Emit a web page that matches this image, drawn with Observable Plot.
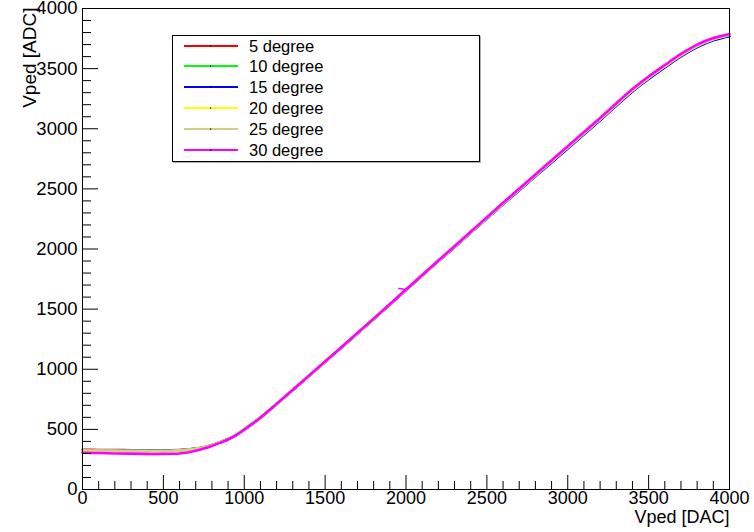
<!DOCTYPE html>
<html>
<head>
<meta charset="utf-8">
<script src="https://cdn.jsdelivr.net/npm/d3@7"></script>
<script src="https://cdn.jsdelivr.net/npm/@observablehq/plot@0.6"></script>
<style>
  html, body { margin: 0; padding: 0; background: #fff; }
  #wrap { position: relative; width: 754px; height: 532px; overflow: hidden; font-family: "Liberation Sans", Arial, sans-serif; }
  #legend { position: absolute; left: 172px; top: 35px; width: 306px; height: 125px; border: 1px solid #000; background: #fff; box-shadow: 1px 1px 0 #b0b0b0; }
  .row { position: absolute; left: 0; height: 20px; width: 100%; }
  .row svg { position: absolute; left: 10px; top: 0; }
  .row span { position: absolute; left: 76px; top: 0px; font-size: 16.5px; line-height: 20px; color: #000; }
</style>
</head>
<body>
<div id="wrap"></div>
<script>
// ---- data ----
const xs = [0,100,200,300,400,500,550,600,650,700,750,800,850,900,950,1000,1100,1200,1400,1600,1800,2000,2200,2400,2600,2800,3000,3200,3400,3500,3600,3700,3800,3900,4000];
const deg5  = [330,329,328,327,326,326,327,329,333,340,352,370,394,420,455,500,598,712,945,1180,1418,1660,1900,2138,2378,2612,2845,3080,3320,3425,3520,3612,3690,3745,3780];
const deg10 = [327,326,325,324,323,323,324,327,332,339,351,369,393,419,454,499,597,711,945,1180,1418,1660,1900,2138,2377,2610,2843,3077,3316,3421,3517,3609,3687,3743,3778];
const deg15 = [326,325,324,323,322,322,323,326,331,338,350,368,392,418,453,498,596,710,944,1179,1416,1658,1897,2134,2372,2604,2836,3070,3310,3414,3510,3602,3680,3736,3770];
const deg20 = [322,321,320,319,318,318,320,324,330,338,350,368,393,419,454,499,597,711,945,1180,1418,1660,1900,2138,2377,2611,2844,3078,3318,3423,3518,3610,3688,3744,3779];
const deg25 = [325,324,323,322,321,321,322,326,331,339,351,369,393,419,454,499,597,711,945,1180,1418,1660,1900,2138,2378,2612,2845,3080,3320,3425,3520,3612,3690,3745,3780];
const deg30 = [305,303,300,298,296,296,297,300,308,322,340,362,388,416,452,498,597,712,947,1183,1421,1663,1904,2143,2384,2620,2854,3090,3330,3435,3530,3622,3700,3754,3788];
const glitchX = [2000, 1955];
const glitchY = [1664, 1672];

const seriesNames = ["5 degree","10 degree","15 degree","20 degree","25 degree","30 degree"];
const seriesValues = [deg5, deg10, deg15, deg20, deg25, deg30];
const seriesColors = ["#ff0000","#00ff00","#0000ff","#ffff00","#cfcf8a","#ff00ff"];

const majorX = [0,500,1000,1500,2000,2500,3000,3500,4000];
const minorX = d3.range(0, 4001, 100).filter(v => v % 500 !== 0);
const majorY = [0,500,1000,1500,2000,2500,3000,3500,4000];
const minorY = d3.range(0, 4001, 100).filter(v => v % 500 !== 0);

// ---- table ----
const rows = [];
seriesValues.forEach((vals, s) => vals.forEach((v, i) => rows.push({series: seriesNames[s], x: xs[i], y: v})));
const glitch = glitchX.map((x, i) => ({x, y: glitchY[i]}));

const W = 754, H = 532, mL = 82, mR = 25, mT = 8, mB = 43;
const plotW = W - mL - mR, plotH = H - mT - mB;

const chart = Plot.plot({
  width: W, height: H,
  marginLeft: mL, marginRight: mR, marginTop: mT, marginBottom: mB,
  style: {fontFamily: "'Liberation Sans', Arial, sans-serif", background: "#fff", overflow: "visible"},
  x: {domain: [0, 4000], axis: null},
  y: {domain: [0, 4000], axis: null},
  color: {domain: seriesNames, range: seriesColors},
  marks: [
    Plot.line(rows, {x: "x", y: "y", z: "series", stroke: "series", strokeWidth: 2.6, curve: "catmull-rom"}),
    Plot.line(glitch, {x: "x", y: "y", stroke: "#ff00ff", strokeWidth: 1.5}),
    Plot.tickX(majorX, {x: d => d, insetTop: plotH - 14, stroke: "#000", strokeWidth: 1}),
    Plot.tickX(minorX, {x: d => d, insetTop: plotH - 8, stroke: "#000", strokeWidth: 1}),
    Plot.tickY(majorY, {y: d => d, insetRight: plotW - 16, stroke: "#000", strokeWidth: 1}),
    Plot.tickY(minorY, {y: d => d, insetRight: plotW - 9, stroke: "#000", strokeWidth: 1}),
    Plot.frame({stroke: "#000", strokeWidth: 1}),
    Plot.axisX(majorX, {tickSize: 0, tickPadding: 2, fontSize: 18, tickFormat: d => String(d), label: null, fill: "#000"}),
    Plot.axisY(majorY, {tickSize: 0, tickPadding: 5, fontSize: 18.5, tickFormat: d => String(d), label: null, fill: "#000"}),
    Plot.text(["Vped [DAC]"], {frameAnchor: "bottom-right", text: d => d, textAnchor: "end", dy: 33.5, fontSize: 18, fill: "#000"}),
    Plot.text(["Vped [ADC]"], {frameAnchor: "top-left", text: d => d, textAnchor: "end", rotate: -90, dx: -60, dy: -1, fontSize: 19, fill: "#000"})
  ]
});

const wrap = document.getElementById("wrap");
wrap.appendChild(chart);

// ---- legend ----
const legend = document.createElement("div");
legend.id = "legend";
seriesNames.forEach((name, i) => {
  const row = document.createElement("div");
  row.className = "row";
  row.style.top = (-0.5 + 20.8 * i) + "px";
  row.innerHTML = `<svg width="56" height="20"><line x1="1" x2="55" y1="10" y2="10" stroke="${seriesColors[i]}" stroke-width="2.2"/><rect x="27" y="9.5" width="1.2" height="1.2" fill="#000"/></svg><span>${name}</span>`;
  legend.appendChild(row);
});
wrap.appendChild(legend);
</script>
</body>
</html>
